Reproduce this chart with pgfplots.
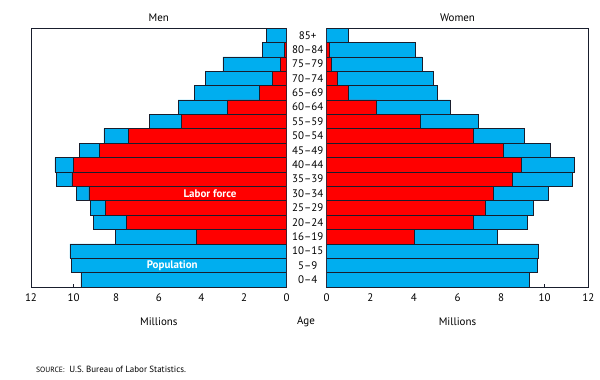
\documentclass[border=0pt]{standalone}
\usepackage{pgfplots}
\pgfplotsset{compat=1.18}
\usepackage{pgfplotstable}
\usepackage{fontspec}
\setmainfont{PT Sans}
\definecolor{popblue}{RGB}{0,174,239}
\definecolor{lfred}{RGB}{255,0,0}
\definecolor{edgec}{RGB}{25,30,45}

\pgfplotstableread{
idx menpop menlf wompop womlf
0 9.66 0 9.27 0
1 10.11 0 9.66 0
2 10.17 0 9.71 0
3 8.05 4.24 7.83 4.00
4 9.08 7.51 9.20 6.73
5 9.20 8.52 9.48 7.28
6 9.86 9.28 10.14 7.65
7 10.80 10.08 11.28 8.53
8 10.88 10.02 11.36 8.94
9 9.74 8.80 10.26 8.12
10 8.58 7.43 9.04 6.70
11 6.46 4.96 6.97 4.28
12 5.09 2.77 5.67 2.29
13 4.35 1.29 5.09 1.01
14 3.82 0.66 4.88 0.49
15 3.00 0.28 4.37 0.23
16 1.14 0.12 4.05 0.11
17 0.94 0 1.01 0
}\pyrdata

\pgfplotsset{
  pyr/.style={
    scale only axis,
    height=259bp,
    xmin=0, xmax=12,
    ymin=-0.5, ymax=17.5,
    xtick={0,2,...,12},
    xtick pos=bottom,
    tick align=inside,
    major tick length=3bp,
    axis line style={draw=edgec, line width=0.6pt},
    xtick style={draw=edgec, line width=0.5pt},
    ticklabel style={font=\fontsize{11}{13}\selectfont},
    xticklabel style={yshift=-3bp},
    /pgf/number format/assume math mode=true,
    title style={font=\fontsize{11}{13}\selectfont, yshift=-3bp},
    xlabel style={font=\fontsize{11}{13}\selectfont, yshift=-9bp},
    xlabel={Millions},
  },
  pbar/.style={xbar, bar width=1, bar shift=0pt, draw=edgec, line width=0.5pt},
}

\begin{document}
\begin{tikzpicture}
\useasboundingbox (0,0) rectangle (600bp,-380bp);

\begin{axis}[pyr,
  at={(31bp,-287bp)}, anchor=south west,
  width=255.7bp,
  x dir=reverse,
  ytick=\empty,
  title={Men},
]
\addplot[pbar, fill=popblue] table[x=menpop, y=idx] {\pyrdata};
\addplot[pbar, fill=lfred] table[x=menlf, y=idx] {\pyrdata};
\node[text=white, font=\fontsize{11}{13}\selectfont\bfseries] at (axis cs:3.6,6) {Labor force};
\node[text=white, font=\fontsize{11}{13}\selectfont\bfseries] at (axis cs:5.37,1) {Population};
\end{axis}

\begin{axis}[pyr,
  at={(326.7bp,-287bp)}, anchor=south west,
  width=261.6bp,
  ytick={0,...,17},
  yticklabels={0--4,5--9,10--15,16--19,20--24,25--29,30--34,35--39,40--44,45--49,50--54,55--59,60--64,65--69,70--74,75--79,80--84,85+},
  ytick style={draw=none},
  yticklabel style={anchor=center, xshift=-19bp},
  title={Women},
]
\addplot[pbar, fill=popblue] table[x=wompop, y=idx] {\pyrdata};
\addplot[pbar, fill=lfred] table[x=womlf, y=idx] {\pyrdata};
\end{axis}

\node[font=\fontsize{11}{13}\selectfont] at (306bp,-322bp) {Age};
\node[anchor=west, font=\fontsize{9}{11}\selectfont, inner sep=0pt] at (36bp,-369bp) {{\fontsize{7.6}{9}\selectfont SOURCE:}\ \ U.S. Bureau of Labor Statistics.};
\end{tikzpicture}
\end{document}
